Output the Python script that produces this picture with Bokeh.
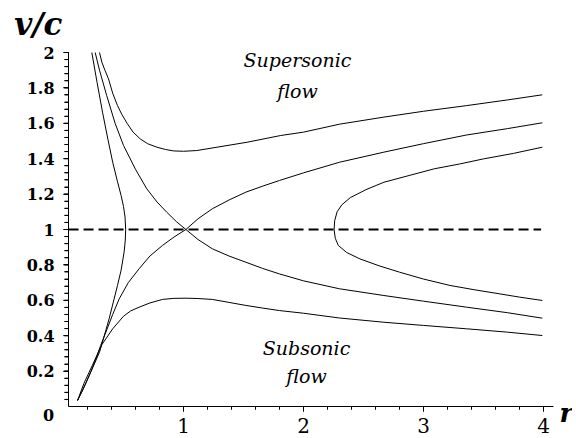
from bokeh.plotting import figure
from bokeh.models import FixedTicker, Range1d, Label
from bokeh.embed import file_html
from bokeh.resources import INLINE

# ---- data ----
supersonic_r = [0.30, 0.32, 0.345, 0.375, 0.41, 0.45, 0.486, 0.53, 0.58, 0.639, 0.70, 0.778, 0.85, 0.917, 1.0, 1.11, 1.28, 1.53, 1.81, 2.0, 2.3, 2.67, 3.0, 3.36, 3.7, 3.99]
supersonic_v = [2.0, 1.945, 1.90, 1.851, 1.77, 1.70, 1.65, 1.60, 1.55, 1.512, 1.485, 1.465, 1.452, 1.444, 1.442, 1.446, 1.465, 1.493, 1.531, 1.55, 1.595, 1.635, 1.668, 1.70, 1.732, 1.761]

decel_r = [0.264, 0.30, 0.36, 0.43, 0.5, 0.6, 0.694, 0.78, 0.86, 0.94, 1.02, 1.12, 1.24, 1.38, 1.52, 1.66, 1.80, 2.0, 2.3, 2.67, 3.0, 3.36, 3.7, 3.99]
decel_v = [2.0, 1.90, 1.757, 1.60, 1.475, 1.34, 1.23, 1.155, 1.098, 1.045, 1.0, 0.944, 0.891, 0.85, 0.815, 0.78, 0.749, 0.71, 0.665, 0.627, 0.595, 0.561, 0.53, 0.499]

accel_r = [0.117, 0.15, 0.19, 0.23, 0.27, 0.31, 0.353, 0.41, 0.464, 0.54, 0.63, 0.72, 0.825, 0.92, 1.02, 1.12, 1.24, 1.38, 1.52, 1.66, 1.80, 2.0, 2.3, 2.67, 3.0, 3.36, 3.7, 3.99]
accel_v = [0.034, 0.08, 0.137, 0.20, 0.27, 0.345, 0.42, 0.52, 0.608, 0.70, 0.778, 0.85, 0.91, 0.957, 1.0, 1.06, 1.117, 1.167, 1.211, 1.245, 1.277, 1.32, 1.38, 1.437, 1.485, 1.534, 1.57, 1.603]

left_r = [0.236, 0.28, 0.325, 0.37, 0.41, 0.45, 0.48, 0.50, 0.513, 0.518, 0.515, 0.505, 0.48, 0.45, 0.415, 0.38, 0.34, 0.30, 0.257, 0.214, 0.165, 0.117]
left_v = [2.0, 1.83, 1.663, 1.51, 1.38, 1.27, 1.192, 1.13, 1.07, 1.0, 0.94, 0.872, 0.77, 0.684, 0.59, 0.495, 0.40, 0.307, 0.24, 0.175, 0.10, 0.034]

right_r = [3.99, 3.75, 3.50, 3.30, 3.09, 2.88, 2.67, 2.52, 2.39, 2.32, 2.28, 2.26, 2.255, 2.265, 2.29, 2.36, 2.47, 2.63, 2.80, 3.0, 3.22, 3.42, 3.63, 3.8, 3.99]
right_v = [1.465, 1.43, 1.399, 1.37, 1.343, 1.305, 1.267, 1.225, 1.18, 1.14, 1.10, 1.05, 1.0, 0.95, 0.91, 0.87, 0.834, 0.795, 0.759, 0.72, 0.684, 0.66, 0.637, 0.618, 0.599]

subsonic_r = [0.117, 0.17, 0.24, 0.32, 0.41, 0.5, 0.56, 0.63, 0.72, 0.825, 0.92, 1.02, 1.12, 1.24, 1.38, 1.52, 1.66, 1.80, 2.0, 2.3, 2.67, 3.0, 3.36, 3.7, 3.99]
subsonic_v = [0.034, 0.13, 0.232, 0.35, 0.439, 0.51, 0.54, 0.561, 0.585, 0.605, 0.611, 0.612, 0.61, 0.605, 0.588, 0.571, 0.556, 0.542, 0.527, 0.50, 0.476, 0.458, 0.439, 0.42, 0.401]

sonic_r = [0.042, 3.98]
sonic_v = [1.0, 1.0]

x_axis_bounds = (0.042, 4.083)
y_axis_bounds = (0.0, 2.0)
x_ticks = [1, 2, 3, 4]
x_tick_labels = ["1", "2", "3", "4"]
x_minor = [round(0.2 * i, 1) for i in range(1, 21)]
y_ticks = [0.2, 0.4, 0.6, 0.8, 1.0, 1.2, 1.4, 1.6, 1.8, 2.0]
y_tick_labels = ["0.2", "0.4", "0.6", "0.8", "1", "1.2", "1.4", "1.6", "1.8", "2"]
y_minor = [round(0.04 * i, 2) for i in range(1, 51)]

SERIF = "DejaVu Serif"
W, H = 572, 434
PX_PER_R = 120.0   # screen pixels per unit of r
PX_PER_V = 177.0   # screen pixels per unit of v/c

p = figure(width=W, height=H, output_backend="svg", toolbar_location=None,
           x_range=Range1d((0 - 63) / PX_PER_R, (W - 63) / PX_PER_R),
           y_range=Range1d((406 - H) / PX_PER_V, 406 / PX_PER_V), min_border=0)
p.grid.visible = False
p.outline_line_color = None

xa = p.xaxis[0]
xa.fixed_location = 0.0
xa.bounds = x_axis_bounds
xa.ticker = FixedTicker(ticks=x_ticks, minor_ticks=x_minor)
xa.major_label_overrides = dict(zip(x_ticks, x_tick_labels))
xa.major_label_text_font = SERIF
xa.major_label_text_font_size = "20px"
xa.major_label_text_color = "black"
xa.major_label_standoff = 6
xa.major_tick_out = 5
xa.major_tick_in = 0
xa.minor_tick_out = 3
xa.minor_tick_in = 0

ya = p.yaxis[0]
ya.fixed_location = x_axis_bounds[0]
ya.bounds = y_axis_bounds
ya.ticker = FixedTicker(ticks=y_ticks, minor_ticks=y_minor)
ya.major_label_overrides = dict(zip(y_ticks, y_tick_labels))
ya.major_label_text_font = SERIF
ya.major_label_text_font_style = "bold"
ya.major_label_text_font_size = "16px"
ya.major_label_text_color = "black"
ya.major_label_standoff = 9
ya.major_tick_out = 5
ya.major_tick_in = 0
ya.minor_tick_out = 4
ya.minor_tick_in = 0

# tick marks drawn from the tick lists through the plot's scales
p.segment(x0=x_minor, y0=[0.0] * len(x_minor), x1=x_minor, y1=[-3 / PX_PER_V] * len(x_minor),
          line_color="black", line_width=1, level="overlay")
p.segment(x0=x_ticks, y0=[0.0] * len(x_ticks), x1=x_ticks, y1=[-5 / PX_PER_V] * len(x_ticks),
          line_color="black", line_width=1, level="overlay")
p.segment(x0=[x_axis_bounds[0]] * len(y_minor), y0=y_minor,
          x1=[x_axis_bounds[0] - 4 / PX_PER_R] * len(y_minor), y1=y_minor,
          line_color="black", line_width=1, level="overlay")
p.segment(x0=[x_axis_bounds[0]] * len(y_ticks), y0=y_ticks,
          x1=[x_axis_bounds[0] - 5 / PX_PER_R] * len(y_ticks), y1=y_ticks,
          line_color="black", line_width=1, level="overlay")

for rr, vv in [(supersonic_r, supersonic_v), (decel_r, decel_v), (accel_r, accel_v),
               (left_r, left_v), (right_r, right_v), (subsonic_r, subsonic_v)]:
    p.line(rr, vv, line_color="black", line_width=1)

p.line(sonic_r, sonic_v, line_color="black", line_width=2.2, line_dash="10 5")


def add_text(x, y, text, style, size):
    p.add_layout(Label(x=x, y=y, text=text, text_align="center", text_baseline="middle",
                       text_font=SERIF, text_font_style=style, text_font_size=size,
                       text_color="black"))


add_text(-0.125, -0.05, "0", "bold", "16px")
add_text(-0.21, 2.16, "v/c", "bold italic", "31px")
add_text(4.19, -0.034, "r", "bold italic", "26px")
add_text(1.95, 1.955, "Supersonic", "italic", "19px")
add_text(1.95, 1.785, "flow", "italic", "19px")
add_text(2.025, 0.328, "Subsonic", "italic", "19px")
add_text(2.025, 0.175, "flow", "italic", "19px")

open("out.html", "w").write(file_html(p, INLINE))
